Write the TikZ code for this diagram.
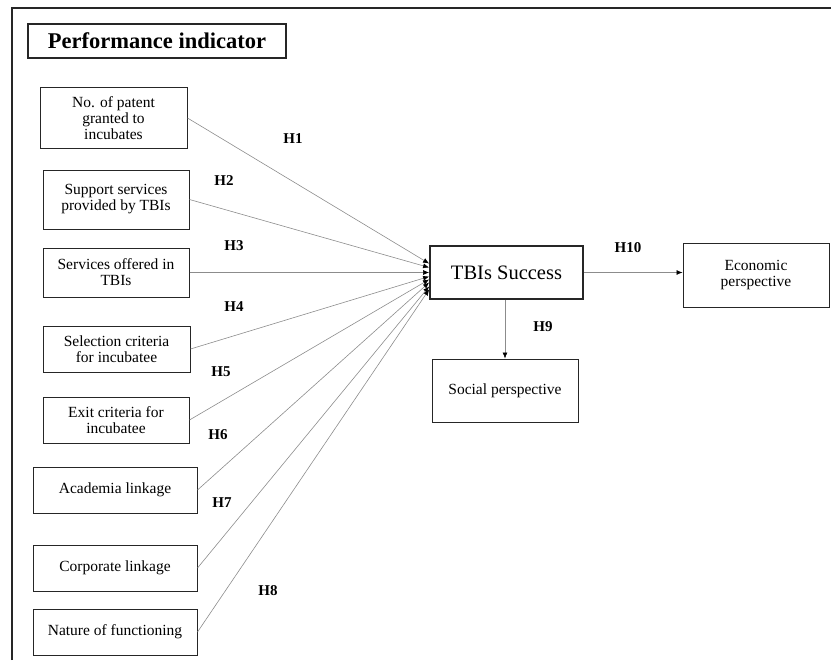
\documentclass[tikz,border=0pt]{standalone}
\usepackage{fontspec}
\setmainfont{Liberation Serif}
\usetikzlibrary{arrows.meta}
\tikzset{
  ind/.style={draw=black!85, line width=1pt, align=center, inner sep=2pt,
    font=\fontsize{15.5}{16}\selectfont},
  hyp/.style={font=\bfseries\fontsize{15}{17}\selectfont},
  link/.style={draw=black!45, line width=0.6pt, -{Latex[black,length=6pt,width=5pt]}}
}
\begin{document}
\begin{tikzpicture}[x=1pt,y=-1pt]
  \useasboundingbox (0,0) rectangle (831,661);
  \draw[line width=1.4pt, black!85] (12,660) -- (12,8) -- (831,8); %frame

  \node[draw=black!85, line width=1.4pt, minimum width=258, minimum height=34,
        font=\bfseries\fontsize{22.5}{26}\selectfont] (title) at (157,41) {Performance indicator};

  \node[ind, minimum width=147, minimum height=60] (b1) at (113.5,118) {No. of patent\\granted to\\incubates};
  \node[ind, minimum width=146, minimum height=59] (b2) at (116,199.5) {Support services\\provided by TBIs};
  \node[ind, minimum width=146, minimum height=49] (b3) at (116,272.5) {Services offered in\\TBIs};
  \node[ind, minimum width=147, minimum height=46] (b4) at (116.5,349) {Selection criteria\\for incubatee};
  \node[ind, minimum width=146, minimum height=46] (b5) at (116,420) {Exit criteria for\\incubatee};
  \node[ind, minimum width=164, minimum height=46] (b6) at (115,490) {Academia linkage};
  \node[ind, minimum width=164, minimum height=46] (b7) at (115,568) {Corporate linkage};
  \node[ind, minimum width=164, minimum height=46] (b8) at (115,632) {Nature of functioning};

  \node[draw=black!85, line width=1.8pt, minimum width=153, minimum height=53,
        font=\fontsize{20.5}{23}\selectfont] (tbi) at (506.5,272.5) {TBIs Success};
  \node[ind, minimum width=146, minimum height=64] (eco) at (756,275) {Economic\\perspective};
  \node[ind, minimum width=146, minimum height=63] (soc) at (505,390.5) {Social perspective};

  \draw[link] (b1.east) -- ([yshift=9]tbi.west);
  \draw[link] (b2.east) -- ([yshift=5]tbi.west);
  \draw[link] (b3.east) -- ([yshift=0]tbi.west);
  \draw[link] (b4.east) -- ([yshift=-4]tbi.west);
  \draw[link] (b5.east) -- ([yshift=-7]tbi.west);
  \draw[link] (b6.east) -- ([yshift=-10]tbi.west);
  \draw[link] (b7.east) -- ([yshift=-14]tbi.west);
  \draw[link] (b8.east) -- ([yshift=-17]tbi.west);
  \draw[link] (tbi.east) -- (eco.west |- tbi.east);
  \draw[link] (tbi.south -| soc.north) -- (soc.north);

  \node[hyp] (h1) at (293,139) {H1};
  \node[hyp] (h2) at (224,181) {H2};
  \node[hyp] (h3) at (234,246) {H3};
  \node[hyp] (h4) at (234,307) {H4};
  \node[hyp] (h5) at (221,372) {H5};
  \node[hyp] (h6) at (218,435) {H6};
  \node[hyp] (h7) at (222,503) {H7};
  \node[hyp] (h8) at (268,591) {H8};
  \node[hyp] (h9) at (543,327) {H9};
  \node[hyp] (h10) at (628,248) {H10};
\end{tikzpicture}
\end{document}
